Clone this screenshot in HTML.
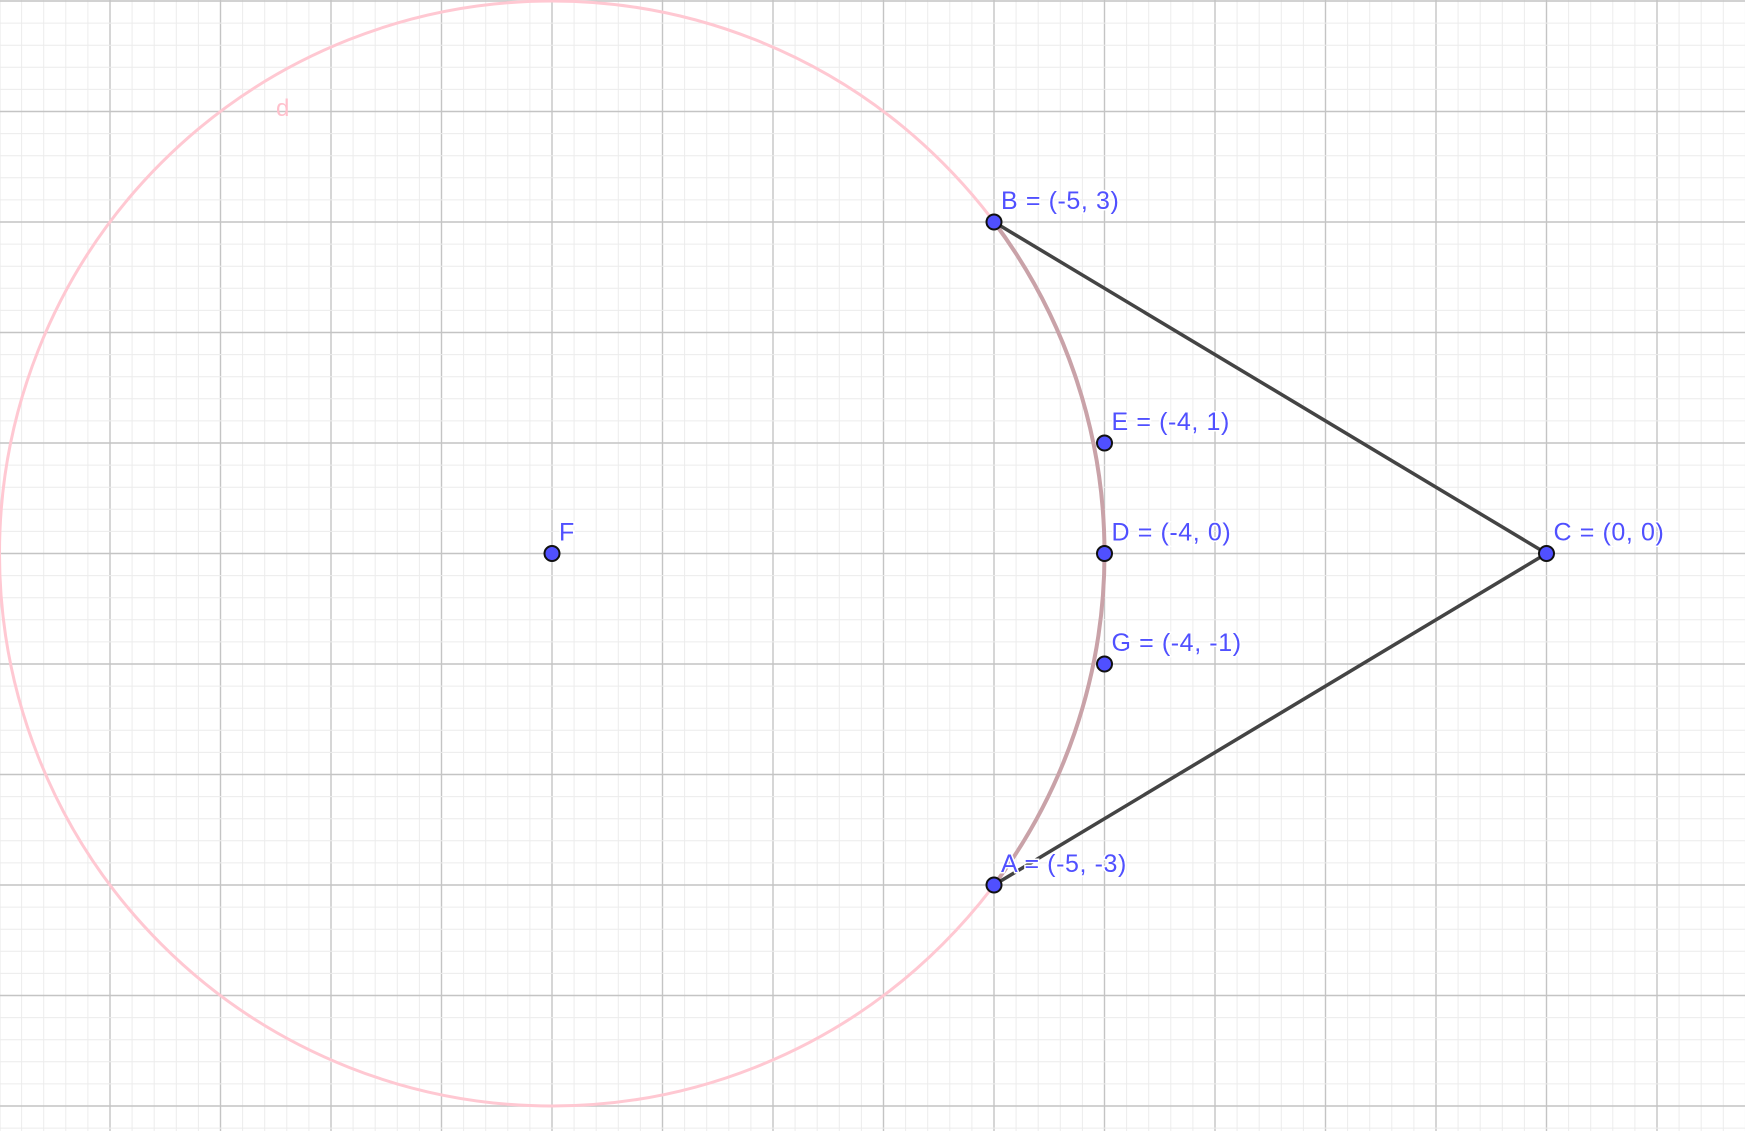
<!DOCTYPE html>
<html><head><meta charset="utf-8">
<style>html,body{margin:0;padding:0;background:#fff;overflow:hidden}svg{display:block}</style>
</head><body>
<svg id="plot" width="1745" height="1131" xmlns="http://www.w3.org/2000/svg" font-family="'Liberation Sans', sans-serif">
<g id="grid"></g>
<g id="shapes"></g>
<g id="pts"></g>
</svg>
<script>
const pointNames = ["B","E","D","G","A","C","F"];
const pointX = [-5,-4,-4,-4,-5,0,-9];
const pointY = [3,1,0,-1,-3,0,0];
const pointLabels = ["B = (-5, 3)","E = (-4, 1)","D = (-4, 0)","G = (-4, -1)","A = (-5, -3)","C = (0, 0)","F"];
const circleCenter = [-9,0];
const circleRadius = 5;

const U=110.5, X0=1546.5, Y0=553.5;
const sx=x=>X0+x*U, sy=y=>Y0-y*U;
const NS="http://www.w3.org/2000/svg";
function mk(tag,attrs,parent){const e=document.createElementNS(NS,tag);for(const k in attrs)e.setAttribute(k,attrs[k]);parent.appendChild(e);return e;}
const grid=document.getElementById('grid'),shapes=document.getElementById('shapes'),pts=document.getElementById('pts');
for(let i=-80;i<=20;i++){const x=sx(i/5);if(x<-2||x>1747)continue;const l=mk('line',{x1:x,x2:x,y1:0,y2:1131,stroke:i%5===0?'#c4c4c4':'#ececec','stroke-width':i%5===0?1.4:1},grid);

}
for(let j=-30;j<=30;j++){const y=sy(j/5);if(y<-2||y>1133)continue;const l=mk('line',{y1:y,y2:y,x1:0,x2:1745,stroke:j%5===0?'#c4c4c4':'#ececec','stroke-width':j%5===0?1.4:1},grid);

}
const c=mk('circle',{cx:sx(circleCenter[0]),cy:sy(circleCenter[1]),r:circleRadius*U,fill:'none',stroke:'#ffc8d2','stroke-width':3},shapes);


const bi=0, ai=4, ci=5;
const arc=mk('path',{d:`M${sx(pointX[bi])},${sy(pointY[bi])} A${circleRadius*U},${circleRadius*U} 0 0 1 ${sx(pointX[ai])},${sy(pointY[ai])}`,fill:'none',stroke:'#c9a2a8','stroke-width':4},shapes);


const dl=mk('text',{x:276,y:116,fill:'#ffc0cc','font-size':24},shapes);dl.textContent='d';


for(const k of [bi,ai]){const s=mk('line',{x1:sx(pointX[k]),y1:sy(pointY[k]),x2:sx(pointX[ci]),y2:sy(pointY[ci]),stroke:'#444','stroke-width':3.5},shapes);

}
pointNames.forEach((n,i)=>{const x=sx(pointX[i]),y=sy(pointY[i]);
const t=mk('text',{x:x+7,y:y-13,fill:'#5050ff','font-size':25,'letter-spacing':0.6,stroke:'#fff','stroke-width':3,'paint-order':'stroke'},pts);t.textContent=pointLabels[i];


const p=mk('circle',{cx:x,cy:y,r:7.5,fill:'#5050ff',stroke:'#111','stroke-width':2},pts);

});
</script>
</body></html>
